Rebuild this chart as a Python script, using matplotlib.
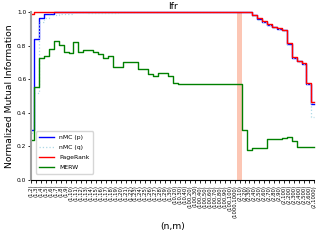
from matplotlib import pyplot as plt
import numpy as np

# (n,m) settings on the x axis
ns = [1]*29 + [10]*3 + [100]*9 + [1000] + [2]*16
ms = list(range(2, 31)) + [20, 30, 40] + list(range(20, 101, 10)) + [1000] + \
     [10] + list(range(20, 100, 10)) + [100, 200, 300, 400, 500, 600] + [1000]
labels = ["(%d,%d)" % (n, m) for n, m in zip(ns, ms)]

nmc_p = [0.30, 0.839, 0.962, 0.988, 0.988] + [1.0]*40 + \
        [0.98, 0.958, 0.942, 0.925, 0.91, 0.9, 0.89, 0.81, 0.727, 0.707, 0.69, 0.57, 0.45]
nmc_q = [0.28, 0.516, 0.942, 0.962, 0.982, 0.982, 0.99, 0.99, 0.99, 1.0, 1.0, 1.0] + \
        [0.993]*6 + [1.0]*27 + \
        [0.978, 0.955, 0.938, 0.922, 0.905, 0.896, 0.887, 0.806, 0.724, 0.704, 0.688, 0.57, 0.377]
pagerank = [0.99] + [1.0]*44 + \
           [0.982, 0.962, 0.946, 0.929, 0.913, 0.903, 0.893, 0.813, 0.73, 0.71, 0.694, 0.575, 0.466]
merw = [0.24, 0.553, 0.724, 0.738, 0.778, 0.829, 0.804, 0.76, 0.754, 0.82,
        0.76, 0.774, 0.774, 0.764, 0.75, 0.728, 0.738, 0.674, 0.674, 0.704,
        0.704, 0.704, 0.659, 0.659, 0.631, 0.619, 0.639, 0.639, 0.619, 0.579] + \
       [0.571]*13 + [0.298, 0.179] + [0.189]*3 + [0.242]*3 + [0.248, 0.258, 0.234] + [0.195]*4
highlight = 42  # marked setting

x = np.arange(len(labels))

fig = plt.figure(figsize=(3.2, 2.4), dpi=100)
ax = fig.add_axes([0.098, 0.25, 0.883, 0.70])
ax.axvspan(highlight - 0.5, highlight + 0.5, color="#fcc6b4", lw=0, zorder=0)
ax.plot(x, nmc_p, color="blue", lw=1.0, drawstyle="steps-mid", label="nMC (p)", clip_on=False)
ax.plot(x, nmc_q, color="lightblue", lw=0.9, ls=":", drawstyle="steps-mid", label="nMC (q)", clip_on=False)
ax.plot(x, pagerank, color="red", lw=1.0, drawstyle="steps-mid", label="PageRank", clip_on=False)
ax.plot(x, merw, color="green", lw=1.0, drawstyle="steps-mid", label="MERW", clip_on=False)

ax.set_xlim(0, len(labels) - 1)
ax.set_ylim(0, 1.0)
ax.set_xticks(x)
ax.set_xticklabels(labels, rotation=90, fontsize=3.8)
ax.set_yticks(np.arange(0, 1.01, 0.2))
ax.set_yticklabels(["%.1f" % v for v in np.arange(0, 1.01, 0.2)], fontsize=4.2)
ax.tick_params(axis="both", length=2.5, width=0.6, pad=1)
ax.spines["top"].set_visible(False)
ax.spines["right"].set_visible(False)
ax.spines["left"].set_color("#a0a0a0")
ax.spines["left"].set_linewidth(1.5)
ax.spines["bottom"].set_linewidth(0.8)

ax.set_title("lfr", fontsize=6.7, pad=2)
ax.set_xlabel("(n,m)", fontsize=6.7, labelpad=3)
ax.set_ylabel("Normalized Mutual Information", fontsize=6.7, labelpad=2)
ax.legend(loc="lower left", fontsize=4.4, handlelength=2.4, borderpad=0.6, labelspacing=0.75,
          bbox_to_anchor=(0.005, 0.02))

fig.savefig("out.png", dpi=100)
